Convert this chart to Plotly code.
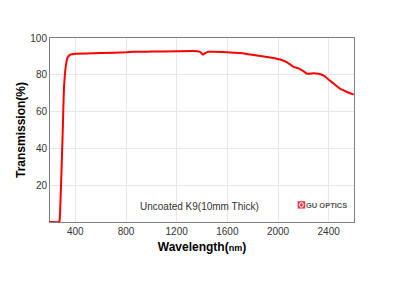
import plotly.graph_objects as go

wavelength = [200, 270, 275, 280, 290, 300, 305, 310, 320, 330, 340, 360, 400, 600, 806, 858, 1000, 1200, 1333, 1380, 1395, 1405, 1420, 1440, 1452, 1600, 1700, 1781, 1913, 2018, 2071, 2123, 2163, 2200, 2229, 2280, 2321, 2361, 2420, 2493, 2540, 2598]
transmission = [0, 0, 0.5, 6, 26, 48, 61, 72, 82, 87, 89.5, 91, 91.5, 91.8, 92.2, 92.5, 92.6, 92.8, 92.9, 92.6, 91.8, 91.0, 91.5, 92.3, 92.5, 92.3, 91.8, 91.0, 89.7, 88.3, 86.8, 84.3, 83.5, 82.0, 80.6, 80.8, 80.6, 79.5, 76.3, 72.3, 70.8, 69.2]

x_ticks = [400, 800, 1200, 1600, 2000, 2400]
y_ticks = [20, 40, 60, 80, 100]

fig = go.Figure()
fig.add_trace(go.Scatter(x=wavelength, y=transmission, mode="lines",
                         line=dict(color="#ff0000", width=2, shape="spline", smoothing=0.4),
                         showlegend=False))

axis_common = dict(showline=True, linecolor="#808080", linewidth=1, mirror=True,
                   showgrid=True, gridcolor="#e6e6e6", gridwidth=1, zeroline=False,
                   ticks="", tickfont=dict(family="Liberation Sans, Arial", size=10, color="#333333"))

fig.update_xaxes(range=[200, 2600], tickvals=x_ticks, ticktext=[str(v) for v in x_ticks],
                 title=dict(text="<b>Wavelength(<span style='font-size:9px'>nm</span>)</b>",
                            font=dict(family="Liberation Sans, Arial", size=12, color="#000000"),
                            standoff=6),
                 **axis_common)
fig.update_yaxes(range=[0, 100], tickvals=y_ticks, ticktext=[str(v) for v in y_ticks],
                 title=dict(text="<b>Transmission(%)</b>",
                            font=dict(family="Liberation Sans, Arial", size=12, color="#000000"),
                            standoff=2),
                 **axis_common)

fig.add_annotation(x=1382, y=8.2, xref="x", yref="y", text="Uncoated K9(10mm Thick)",
                   showarrow=False, font=dict(family="Liberation Sans, Arial", size=10, color="#333333"))
fig.add_annotation(x=2380, y=8.8, xref="x", yref="y", text="<b>GU OPTICS</b>",
                   showarrow=False, font=dict(family="Liberation Sans, Arial", size=7.5, color="#555555"))
fig.add_shape(type="rect", x0=2155, x1=2215, y0=7.3, y1=11.3, xref="x", yref="y",
              fillcolor="#e8394a", line=dict(width=0))
fig.add_shape(type="circle", x0=2170, x1=2200, y0=8.0, y1=10.6, xref="x", yref="y",
              fillcolor="rgba(0,0,0,0)", line=dict(color="white", width=1))

fig.update_layout(width=409, height=304, margin=dict(l=50, r=55, t=38, b=82),
                  paper_bgcolor="white", plot_bgcolor="white")

fig.write_html("out.html")
